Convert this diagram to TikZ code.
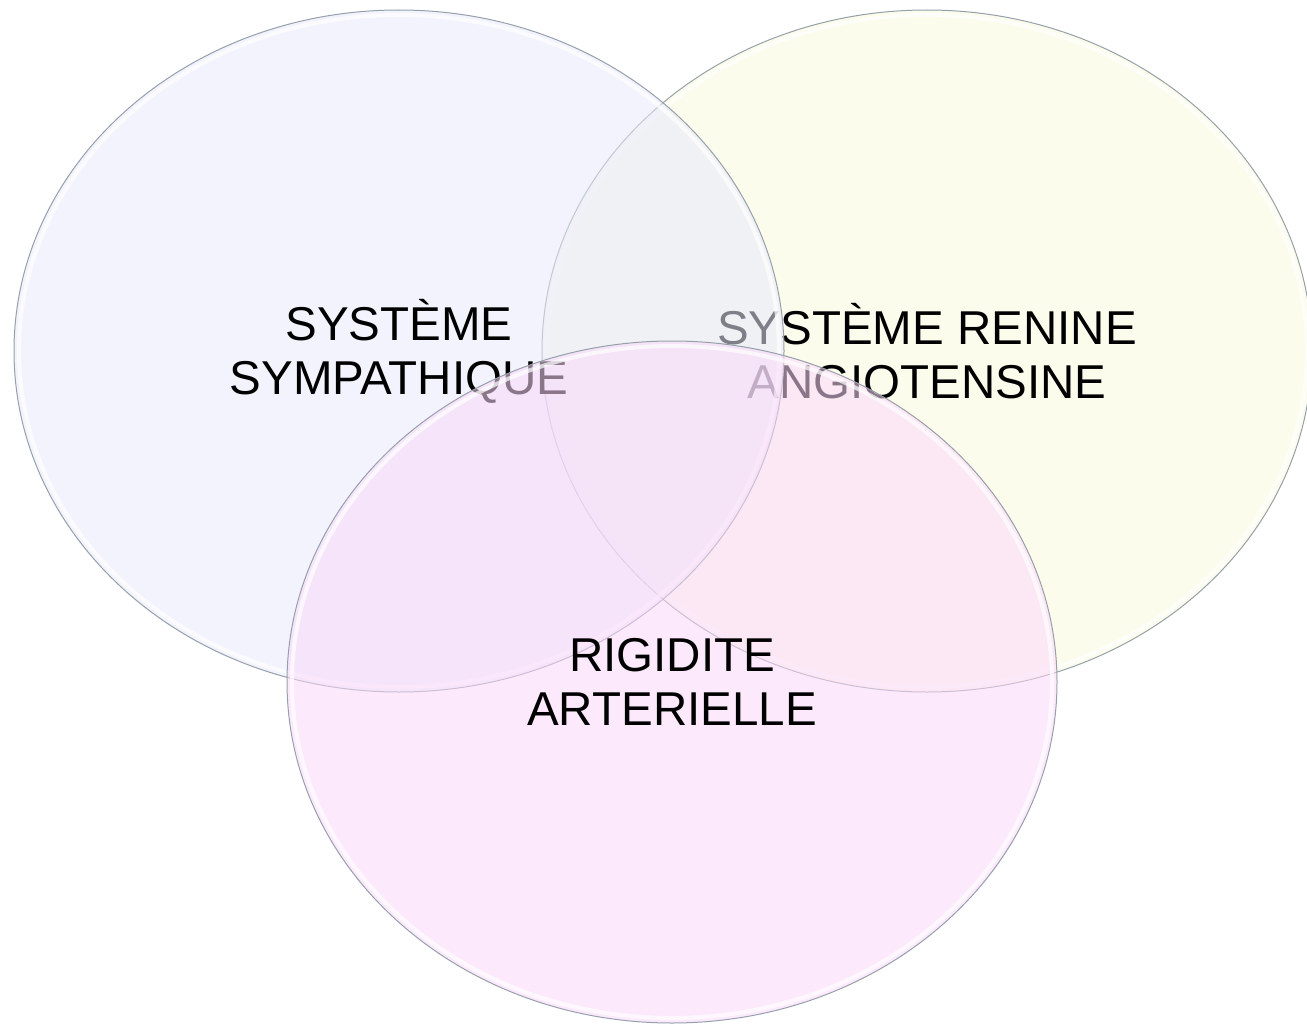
\documentclass[tikz,border=0pt]{standalone}
\usepackage{fontspec}
\setmainfont{Liberation Sans}
\usetikzlibrary{shapes.geometric}
\usetikzlibrary{positioning}

\definecolor{sympfill}{RGB}{231,233,251}
\definecolor{srafill}{RGB}{250,250,222}
\definecolor{rigidfill}{RGB}{250,216,250}
\definecolor{vennline}{RGB}{150,160,170}

\begin{document}
\begin{tikzpicture} [x=1pt, y=-1pt,
    venn/.style={ellipse, draw=vennline, line width=1pt, fill opacity=0.55, text opacity=1,
        inner sep=0pt, outer sep=0pt, minimum width=770pt, minimum height=682pt,
        align=center, font=\fontsize{47.5}{54}\selectfont},
    rim/.style={draw=white, line width=4pt, opacity=0.7}
    ]
    \useasboundingbox (0,0) rectangle (1307,1025);

    %Nodes
    \node[venn, fill=srafill]   (sra)   at (927,351) {SYSTÈME RENINE\\ANGIOTENSINE};
    \draw[rim] (sra.center) ellipse [x radius=380, y radius=336];
    \node[venn, fill=sympfill]  (symp)  at (399,351) {SYSTÈME\\SYMPATHIQUE};
    \draw[rim] (symp.center) ellipse [x radius=380, y radius=336];
    \node[venn, fill=rigidfill] (rigid) at (672,682) {RIGIDITE\\ARTERIELLE};
    \draw[rim] (rigid.center) ellipse [x radius=380, y radius=336];

\end{tikzpicture}
\end{document}
